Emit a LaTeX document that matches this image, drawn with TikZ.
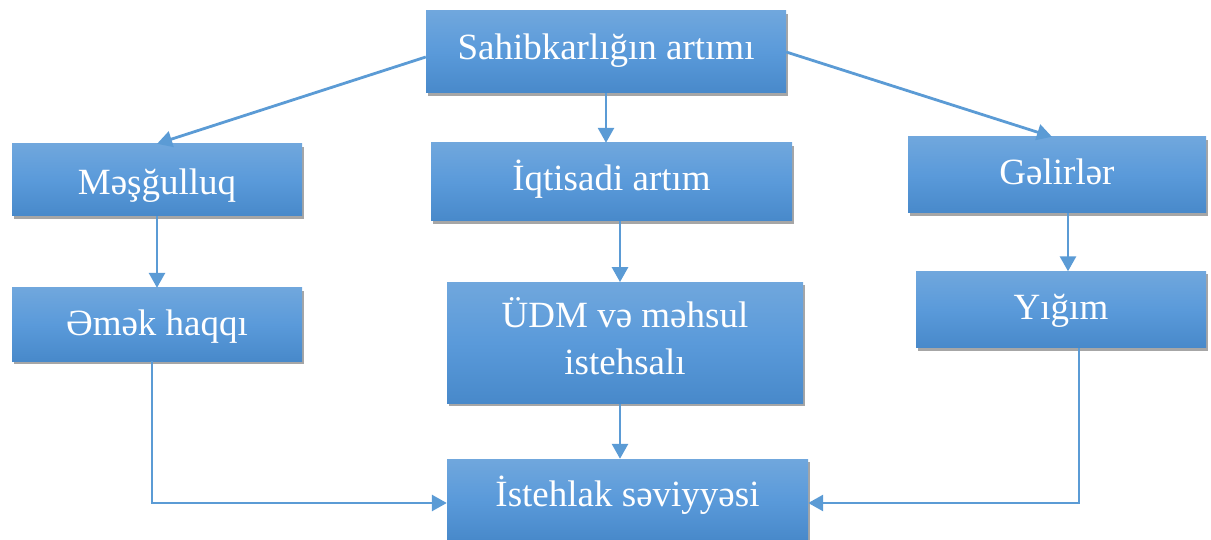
\documentclass[tikz,border=0pt]{standalone}
\usepackage{fontspec}
\setmainfont{Liberation Serif}
\usetikzlibrary{arrows.meta,shadows}
\definecolor{LineBlue}{HTML}{5B9BD5}
\definecolor{BoxTop}{HTML}{70A7DD}
\definecolor{BoxMid}{HTML}{5A9ADA}
\definecolor{BoxBot}{HTML}{4889CA}
\tikzset{
  box/.style={rectangle, inner sep=0pt, text=white,
    top color=BoxTop, bottom color=BoxBot, middle color=BoxMid,
    drop shadow={shadow xshift=2pt, shadow yshift=-3pt, opacity=0.35, fill=black},
    font=\fontsize{37pt}{47pt}\selectfont, text height=31pt},
  conn/.style={draw=LineBlue, line width=2.8pt,
    -{Triangle[length=15pt,width=16pt]}, color=LineBlue},
}
\begin{document}
\begin{tikzpicture}[x=1pt,y=-1pt]
\useasboundingbox (0,0) rectangle (1211,540);
\node[box,text depth=16.6pt,minimum width=360pt,minimum height=82pt] (top) at (606,52) {Sahibkarlığın artımı};
\node[box,text depth=2.6pt,minimum width=290pt,minimum height=72pt] (mesg) at (157,180) {Məşğulluq};
\node[box,text depth=14.6pt,minimum width=361pt,minimum height=78pt] (iqt) at (611.5,182) {İqtisadi artım};
\node[box,text depth=12.6pt,minimum width=298pt,minimum height=76pt] (gel) at (1057,175) {Gəlirlər};
\node[box,text depth=8.8pt,minimum width=290pt,minimum height=73pt] (emek) at (157,324.5) {Əmək haqqı};
\node[box,text depth=61.6pt,minimum width=356pt,minimum height=121pt] (udm) at (625,342.8) {\begin{tabular}[t]{@{}c@{}}ÜDM və məhsul\\istehsalı\end{tabular}};
\node[box,text depth=11.6pt,minimum width=290pt,minimum height=76pt] (yig) at (1061,309.5) {Yığım};
\node[box,text depth=17pt,minimum width=361pt,minimum height=81pt] (ist) at (627.5,499.5) {İstehlak səviyyəsi};

\draw[conn] ([yshift=-5pt]top.west) -- (mesg.north);
\draw[conn] (top.south) -- (top.south |- iqt.north);
\draw[conn] (top.east) -- ([xshift=-5pt]gel.north);
\draw[conn] (mesg.south) -- (emek.north);
\draw[conn] ([xshift=8.5pt]iqt.south) -- ([xshift=8.5pt]iqt.south |- udm.north);
\draw[conn] ([xshift=11pt]gel.south) -- ([xshift=11pt]gel.south |- yig.north);
\draw[conn] ([xshift=-5pt]udm.south) -- ([xshift=-5pt]udm.south |- ist.north);
\draw[conn] ([xshift=-5pt]emek.south) |- ([yshift=-3.5pt]ist.west);
\draw[conn] ([xshift=18pt]yig.south) |- ([yshift=-3.5pt]ist.east);
\end{tikzpicture}
\end{document}
